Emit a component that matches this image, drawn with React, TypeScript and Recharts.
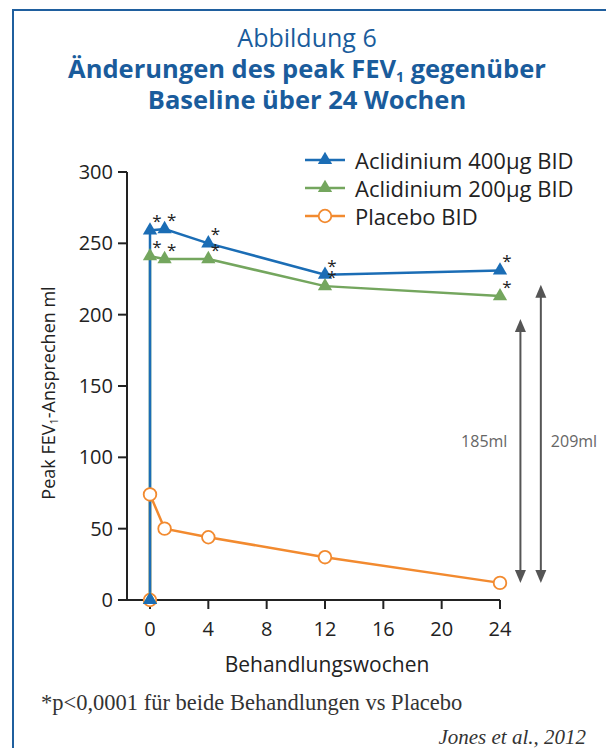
import { LineChart, Line, XAxis, YAxis, ReferenceLine, LabelList, Legend, Symbols } from "recharts"

// weeks of treatment; week 0 appears twice so each curve rises from the baseline
const weeks = [0, 0, 1, 4, 12, 24]
const aclidinium400 = [0, 259, 260, 250, 228, 231]
const aclidinium200 = [0, 241, 239, 239, 220, 213]
const placebo = [0, 74, 50, 44, 30, 12]
// significance marker (*) per visit
const significant = [false, true, true, true, true, true]

const weekTicks = [0, 4, 8, 12, 16, 20, 24]
const mlTicks = [0, 50, 100, 150, 200, 250, 300]

// difference vs placebo at week 24 (ml)
const diffLabels = ["185ml", "209ml"]
const diffValues = [185, 209]

const BLUE = "#1b6db5"
const GREEN = "#74a65e"
const ORANGE = "#f28a2f"
const INK = "#222222"
const SANS = "'Open Sans', 'Noto Sans', sans-serif"
const SERIF = "'Liberation Serif', 'DejaVu Serif', serif"

const toRows = (values: number[]) =>
  weeks.map((week, i) => ({ week, value: values[i] }))

const series = [
  { key: "a400", name: "Aclidinium 400µg BID", color: BLUE, marker: "triangle", rows: toRows(aclidinium400), stars: true },
  { key: "a200", name: "Aclidinium 200µg BID", color: GREEN, marker: "triangle", rows: toRows(aclidinium200), stars: true },
  { key: "plc", name: "Placebo BID", color: ORANGE, marker: "circle", rows: toRows(placebo), stars: false },
]

function Marker({ cx, cy, type, color }: { cx: number; cy: number; type: string; color: string }) {
  if (type === "circle") {
    return <circle cx={cx} cy={cy} r={6.3} fill="#ffffff" stroke={color} strokeWidth={1.8} />
  }
  return <Symbols cx={cx} cy={cy} type="triangle" size={88} fill={color} />
}

const makeDot = (type: string, color: string) => (props: any) => {
  const { cx, cy, index } = props
  if (cx == null || cy == null) return <g key={index} />
  return <Marker key={index} cx={cx} cy={cy} type={type} color={color} />
}

const starLabel = (props: any) => {
  const { x, y, index } = props
  if (!significant[index]) return null
  return (
    <text key={index} x={x + 7} y={y - 3} fontSize={17} fontFamily={SANS} fill={INK} textAnchor="middle">
      *
    </text>
  )
}

function LegendBox() {
  return (
    <div style={{ fontFamily: SANS, fontSize: 22, color: INK }}>
      {series.map((s) => (
        <div key={s.key} style={{ display: "flex", alignItems: "center", height: 28 }}>
          <svg width={44} height={20} style={{ marginRight: 8, flex: "none" }}>
            <line x1={2} y1={10} x2={42} y2={10} stroke={s.color} strokeWidth={2.5} />
            <Marker cx={22} cy={10} type={s.marker} color={s.color} />
          </svg>
          <span style={{ whiteSpace: "nowrap" }}>{s.name}</span>
        </div>
      ))}
    </div>
  )
}

// double headed arrow spanning placebo -> active at week 24
const arrowShape = (label: string, side: "left" | "right") => (props: any) => {
  const { x1, y1, x2, y2 } = props
  const x = x1
  const bottom = Math.max(y1, y2)
  const top = Math.min(y1, y2)
  const head = 13
  const half = 5.5
  return (
    <g>
      <line x1={x} y1={top + head - 1} x2={x2} y2={bottom - head + 1} stroke="#555555" strokeWidth={2} />
      <polygon points={`${x},${top} ${x - half},${top + head} ${x + half},${top + head}`} fill="#555555" />
      <polygon points={`${x},${bottom} ${x - half},${bottom - head} ${x + half},${bottom - head}`} fill="#555555" />
      <text
        x={side === "left" ? x - 13 : x + 10}
        y={bottom - 141}
        dy="0.35em"
        fontSize={16}
        fontFamily={SANS}
        fill="#666666"
        textAnchor={side === "left" ? "end" : "start"}
      >
        {label}
      </text>
    </g>
  )
}

const yTitle = () => {
  const cx = 48
  const cy = 393
  return (
    <text x={cx} y={cy} transform={`rotate(-90 ${cx} ${cy})`} textAnchor="middle" dominantBaseline="central" fontSize={18} fontFamily={SANS} fill={INK}>
      Peak FEV<tspan fontSize={11} dy={5}>1</tspan>
      <tspan dy={-5}>-Ansprechen ml</tspan>
    </text>
  )
}

const xTitle = () => (
  <text x={327} y={664} textAnchor="middle" dominantBaseline="central" fontSize={21} fontFamily={SANS} fill={INK}>
    Behandlungswochen
  </text>
)

export default function App() {
  const placeboEnd = placebo[placebo.length - 1]
  const arrowWeeks = [25.4, 26.8]
  return (
    <div style={{ position: "fixed", top: 0, left: 0, width: 606, height: 748, background: "#ffffff", overflow: "hidden" }}>
      <div
        style={{
          position: "absolute",
          left: 12,
          top: 9,
          width: 640,
          height: 800,
          borderTop: "2px solid #1f5f9e",
          borderLeft: "2px solid #1f5f9e",
        }}
      />
      <div style={{ position: "absolute", top: 21, left: 0, width: 614, textAlign: "center", color: "#1a5c9c", fontFamily: SANS }}>
        <div style={{ fontSize: 25, lineHeight: "32px" }}>Abbildung 6</div>
        <div style={{ fontSize: 25.5, lineHeight: "31px", fontWeight: 700, whiteSpace: "nowrap" }}>
          Änderungen des peak FEV<sub style={{ fontSize: 14, verticalAlign: "-4px", lineHeight: 0 }}>1</sub> gegenüber
        </div>
        <div style={{ fontSize: 25.5, lineHeight: "30px", fontWeight: 700 }}>Baseline über 24 Wochen</div>
      </div>

      <div style={{ position: "absolute", top: 0, left: 0 }}>
        <LineChart width={606} height={748} margin={{ top: 172, right: 106, bottom: 88, left: 67 }}>
          <XAxis
            type="number"
            dataKey="week"
            domain={[0, 24]}
            ticks={weekTicks}
            padding={{ left: 23, right: 0 }}
            allowDuplicatedCategory={false}
            height={60}
            stroke={INK}
            strokeWidth={2}
            tickSize={9}
            tickMargin={13}
            tick={{ fontSize: 20, fontFamily: SANS, fill: INK }}
            label={xTitle}
          />
          <YAxis
            type="number"
            dataKey="value"
            domain={[0, 300]}
            ticks={mlTicks}
            width={60}
            stroke={INK}
            strokeWidth={2}
            tickSize={9}
            tickMargin={5}
            tick={{ fontSize: 20, fontFamily: SANS, fill: INK }}
            label={yTitle}
          />
          <Legend
            layout="vertical"
            align="center"
            verticalAlign="middle"
            content={() => <LegendBox />}
            wrapperStyle={{ top: 146, left: 303, width: 300 }}
          />
          {diffValues.map((d, i) => (
            <ReferenceLine
              key={diffLabels[i]}
              ifOverflow="visible"
              segment={[
                { x: arrowWeeks[i], y: placeboEnd },
                { x: arrowWeeks[i], y: placeboEnd + d },
              ]}
              shape={arrowShape(diffLabels[i], i === 0 ? "left" : "right")}
            />
          ))}
          {[...series].reverse().map((s) => (
            <Line
              key={s.key}
              data={s.rows}
              dataKey="value"
              name={s.name}
              type="linear"
              stroke={s.color}
              strokeWidth={2.5}
              dot={makeDot(s.marker, s.color)}
              activeDot={false}
              isAnimationActive={false}
            >
              {s.stars && <LabelList dataKey="value" content={starLabel} />}
            </Line>
          ))}
        </LineChart>
      </div>

      <div style={{ position: "absolute", left: 41, top: 690, fontFamily: SERIF, fontSize: 22.5, color: "#333333", whiteSpace: "nowrap" }}>
        *p&lt;0,0001 für beide Behandlungen vs Placebo
      </div>
      <div style={{ position: "absolute", right: 20, top: 725, fontFamily: SERIF, fontStyle: "italic", fontSize: 21, color: "#333333" }}>
        Jones et al., 2012
      </div>
    </div>
  )
}
